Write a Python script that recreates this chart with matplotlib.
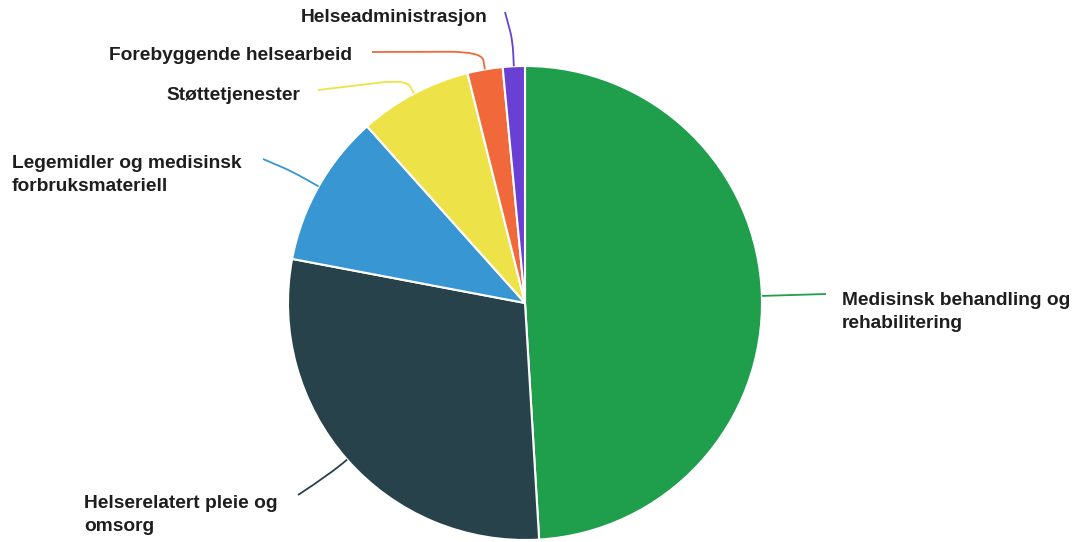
import numpy as np
import matplotlib
matplotlib.use("Agg")
import matplotlib.pyplot as plt
from matplotlib.path import Path
from matplotlib.patches import PathPatch

# shares in percent, clockwise from 12 o'clock
categories = ["Medisinsk behandling og\nrehabilitering",
              "Helserelatert pleie og\nomsorg",
              "Legemidler og medisinsk\nforbruksmateriell",
              "Støttetjenester",
              "Forebyggende helsearbeid",
              "Helseadministrasjon"]
shares = [49.0, 28.9, 10.4, 7.7, 2.4, 1.5]
colors = ["#1f9e4b", "#27424a", "#3897d3", "#ede349", "#f1693b", "#6a3fd4"]

W, H = 1081, 542
CX, CY, R = 525, 303, 237  # pie centre / radius in pixel space (y down)

# layout for leader lines / labels (image pixels, y down)
elbow_extra = [10, 20, 30, 16, 18, 26]
line_end = [(826, 294), (298, 495), (263, 159), (318, 90), (372, 52), (505, 12)]
label_pos = [(842, 312, "left"), (84, 515, "left"), (12, 175, "left"),
             (300, 96, "right"), (352, 56, "right"), (488, 18, "right")]

fig = plt.figure(figsize=(W / 100, H / 100), dpi=100)
ax = fig.add_axes([0, 0, 1, 1])
ax.set_xlim(0, W)
ax.set_ylim(0, H)
ax.set_aspect("equal")
ax.axis("off")

wedges, _ = ax.pie(shares, colors=colors, startangle=90, counterclock=False,
                   center=(CX, H - CY), radius=R,
                   wedgeprops=dict(edgecolor="white", linewidth=1.5))
ax.set_xlim(0, W)
ax.set_ylim(0, H)

for i, (w, col, extra, end, (lx, ly, ha), name) in enumerate(zip(
        wedges, colors, elbow_extra, line_end, label_pos, categories)):
    mid = np.deg2rad((w.theta1 + w.theta2) / 2)
    ux, uy = np.cos(mid), np.sin(mid)
    p0 = np.array([CX + R * ux, H - CY + R * uy])
    el = np.array([CX + (R + extra) * ux, H - CY + (R + extra) * uy])
    p2 = np.array([end[0], H - end[1]])
    if i == 1:
        # the pleie/omsorg leader is one smooth sweep
        path = Path([p0, el, p2], [Path.MOVETO, Path.CURVE3, Path.CURVE3])
    else:
        a = p0 + 0.5 * (el - p0)
        b = el + 0.3 * (p2 - el)
        path = Path([p0, a, el, b, p2],
                    [Path.MOVETO, Path.LINETO, Path.CURVE3, Path.CURVE3,
                     Path.LINETO])
    ax.add_patch(PathPatch(path, facecolor="none", edgecolor=col, lw=1.3))
    ax.text(lx, H - ly, name, ha=ha, va="center", fontsize=13.8,
            fontweight="bold", family="Liberation Sans", color="#1e1e1e",
            linespacing=1.52)

fig.savefig("out.png", dpi=100)
